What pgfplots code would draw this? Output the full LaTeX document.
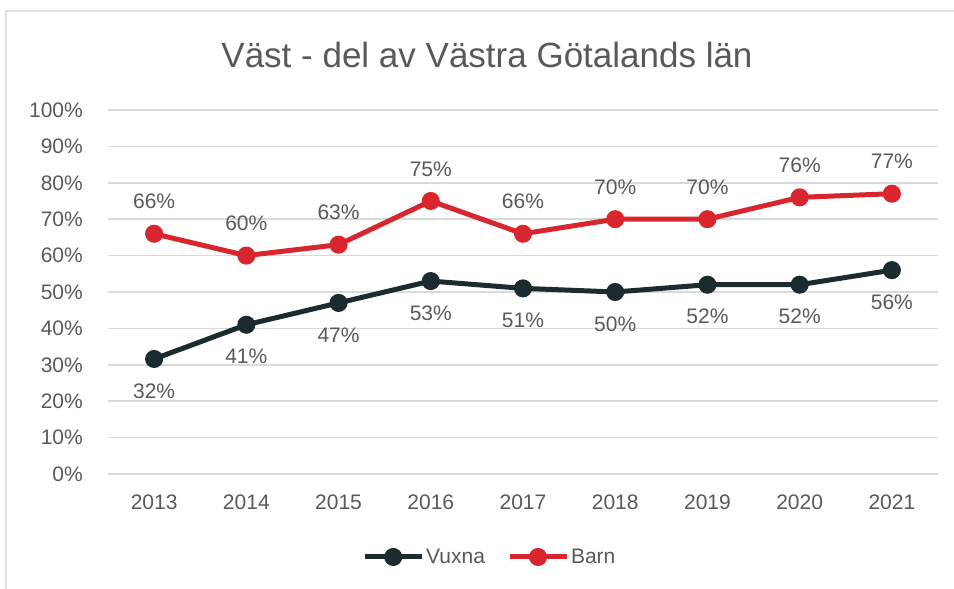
\documentclass[border=0pt]{standalone}
\usepackage{pgfplots}
\pgfplotsset{compat=1.18}
\usepackage{fontspec}
\setmainfont{Liberation Sans}
\definecolor{cred}{HTML}{D9262E}
\definecolor{cdark}{HTML}{1C2B2F}
\definecolor{ctext}{HTML}{595959}
\definecolor{cgrid}{HTML}{D9D9D9}
\begin{document}
\begin{tikzpicture}[x=1pt,y=1pt]
\useasboundingbox (0,0) rectangle (954,589);
\draw[cgrid!80, line width=1.5pt] (6,-5) -- (6,578) -- (960,578);
\node[text=ctext, font=\fontsize{35}{40}\selectfont] at (487,534) {Väst - del av Västra Götalands län};
\begin{axis}[
  at={(108pt,115pt)}, anchor=south west,
  scale only axis, width=830pt, height=364pt,
  xmin=-0.5, xmax=8.5, ymin=0, ymax=100,
  xtick={0,...,8},
  xticklabels={2013,2014,2015,2016,2017,2018,2019,2020,2021},
  ytick={0,10,...,100},
  yticklabel={\pgfmathprintnumber{\tick}\%},
  /pgf/number format/assume math mode=true,
  axis line style={draw=none},
  major tick length=0pt,
  ymajorgrids, grid style={cgrid, line width=1.5pt},
  tick label style={text=ctext, font=\fontsize{21}{25}\selectfont, inner sep=0pt},
  yticklabel style={anchor=east, xshift=-25pt},
  xticklabel style={anchor=north, yshift=-21pt},
  clip=false,
  legend style={at={(0.46,-0.228)}, anchor=center, draw=none, fill=none,
    font=\fontsize{21}{25}\selectfont, text=ctext,
    /tikz/every even column/.append style={column sep=20pt}},
  legend columns=2,
  legend cell align=left,
  legend image code/.code={\draw[mark repeat=2,mark phase=2,#1] plot coordinates {(0pt,0pt) (28.5pt,0pt) (57pt,0pt)};},
  nodes near coords={\pgfmathprintnumber[fixed,precision=0]{\pgfplotspointmeta}\%},
  point meta=y,
]
\addplot[cdark, line width=5pt, mark=*, mark size=6.5pt,
  every node near coord/.style={anchor=center, yshift=-32pt, text=ctext, font=\fontsize{21}{25}\selectfont}]
  coordinates {(0,31.6) (1,41) (2,47) (3,53) (4,51) (5,50) (6,52) (7,52) (8,56)};
\addlegendentry{Vuxna}
\addplot[cred, line width=5pt, mark=*, mark size=6.5pt,
  every node near coord/.style={anchor=center, yshift=32pt, text=ctext, font=\fontsize{21}{25}\selectfont}]
  coordinates {(0,66) (1,60) (2,63) (3,75) (4,66) (5,70) (6,70) (7,76) (8,77)};
\addlegendentry{Barn}
\end{axis}
\end{tikzpicture}
\end{document}
